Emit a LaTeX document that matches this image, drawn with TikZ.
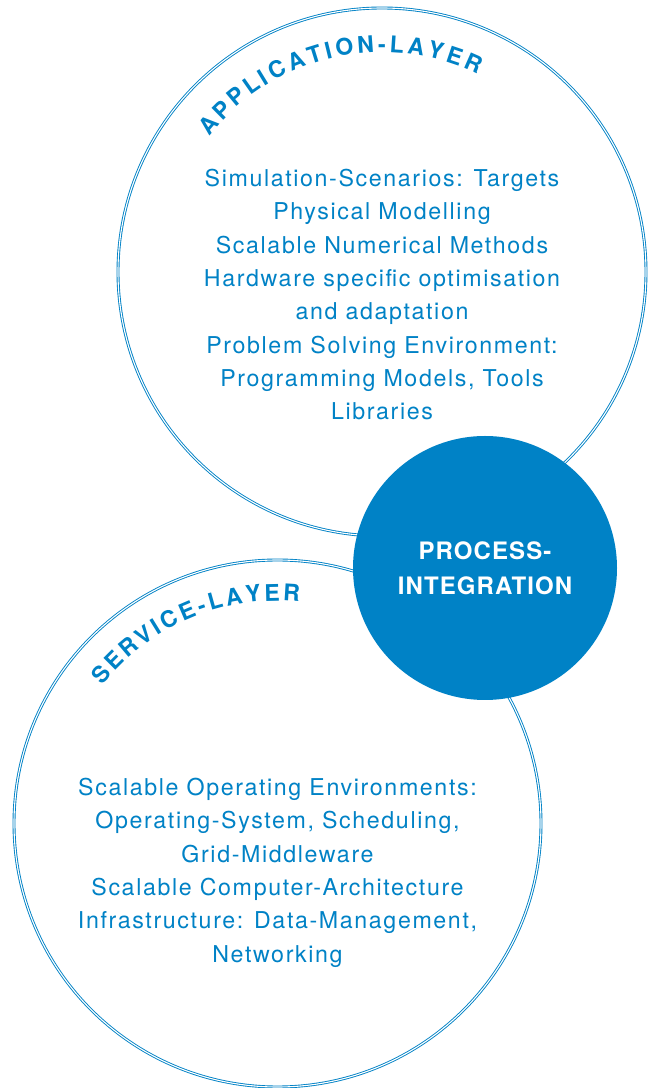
\documentclass[tikz,border=0pt]{standalone}
\usepackage{fontspec}
\setmainfont{TeX Gyre Heros}
\newfontfamily\bodyfamily[LetterSpace=7]{TeX Gyre Heros}
\newfontfamily\hubfamily[LetterSpace=4.5]{TeX Gyre Heros}
\newfontfamily\arcfamily{TeX Gyre Heros}
\usetikzlibrary{calc}
\definecolor{ublue}{RGB}{0,130,198}
\newcommand\arcfont{\arcfamily\bfseries\fontsize{23}{23}\selectfont}
\newdimen\chw
\newdimen\prevw
\newsavebox\chbox
% #1 name prefix, #2 centre, #3 mid radius, #4 angle of first glyph, #5 tracking, #6 letters
\newcommand\arclabel[6]{%
  \global\prevw=0pt\relax
  \xdef\curang{#4}%
  \pgfmathsetmacro\rbase{#3-8.3}%
  \foreach \ch [count=\k] in {#6}{%
    \pgfinterruptpicture
      \global\setbox\chbox=\hbox{\arcfont\ch}%
    \endpgfinterruptpicture
    \global\chw=\wd\chbox\relax
    \ifnum\k>1\relax
      \pgfmathsetmacro\nxt{\curang-(\the\prevw/2+#5+\the\chw/2)/#3*57.29578}%
      \xdef\curang{\nxt}%
    \fi
    \global\prevw=\chw\relax
    \node[arcletter, rotate=\curang-90] (#1\k) at ($(#2)+(\curang:\rbase pt)$) {\ch};
  }%
}
\begin{document}
\begin{tikzpicture}[x=1pt,y=1pt,
  ring/.style={circle, draw=ublue, line width=0.9pt, double=white, double distance=1.1pt, inner sep=0pt},
  body/.style={align=center, text=ublue, font=\bodyfamily\fontsize{23.2}{33.3}\selectfont, inner sep=0pt},
  hub/.style={circle, fill=ublue, inner sep=0pt, minimum size=264pt},
  hubtext/.style={align=center, text=white, font=\hubfamily\bfseries\fontsize{24}{35}\selectfont, inner sep=0pt},
  arcletter/.style={anchor=base, inner sep=0pt, text=ublue, font=\arcfont}]
\useasboundingbox (0,0) rectangle (653,1088);
\fill[white] (0,0) rectangle (653,1088);
\node[ring, minimum size=528pt] (app) at (382,816) {};
\node[ring, minimum size=527pt] (srv) at (277.5,264.5) {};
\node[hub] (hub) at (485,520) {};
\node[hubtext] (hubtxt) at (hub.center) {PROCESS-\\INTEGRATION};
\node[body, anchor=north] (apptxt) at (382,919) {Simulation-Scenarios: Targets\\Physical Modelling\\Scalable Numerical Methods\\Hardware specific optimisation\\and adaptation\\Problem Solving Environment:\\Programming Models, Tools\\Libraries};
\node[body, anchor=north] (srvtxt) at (277.5,310) {Scalable Operating Environments:\\Operating-System, Scheduling,\\Grid-Middleware\\Scalable Computer-Architecture\\Infrastructure: Data-Management,\\Networking};
\arclabel{al}{app.center}{228}{139.7}{4.2}{A,P,P,L,I,C,A,T,I,O,N,-,L,A,Y,E,R}
\arclabel{sl}{srv.center}{231}{139.8}{3.7}{S,E,R,V,I,C,E,-,L,A,Y,E,R}
\end{tikzpicture}
\end{document}
